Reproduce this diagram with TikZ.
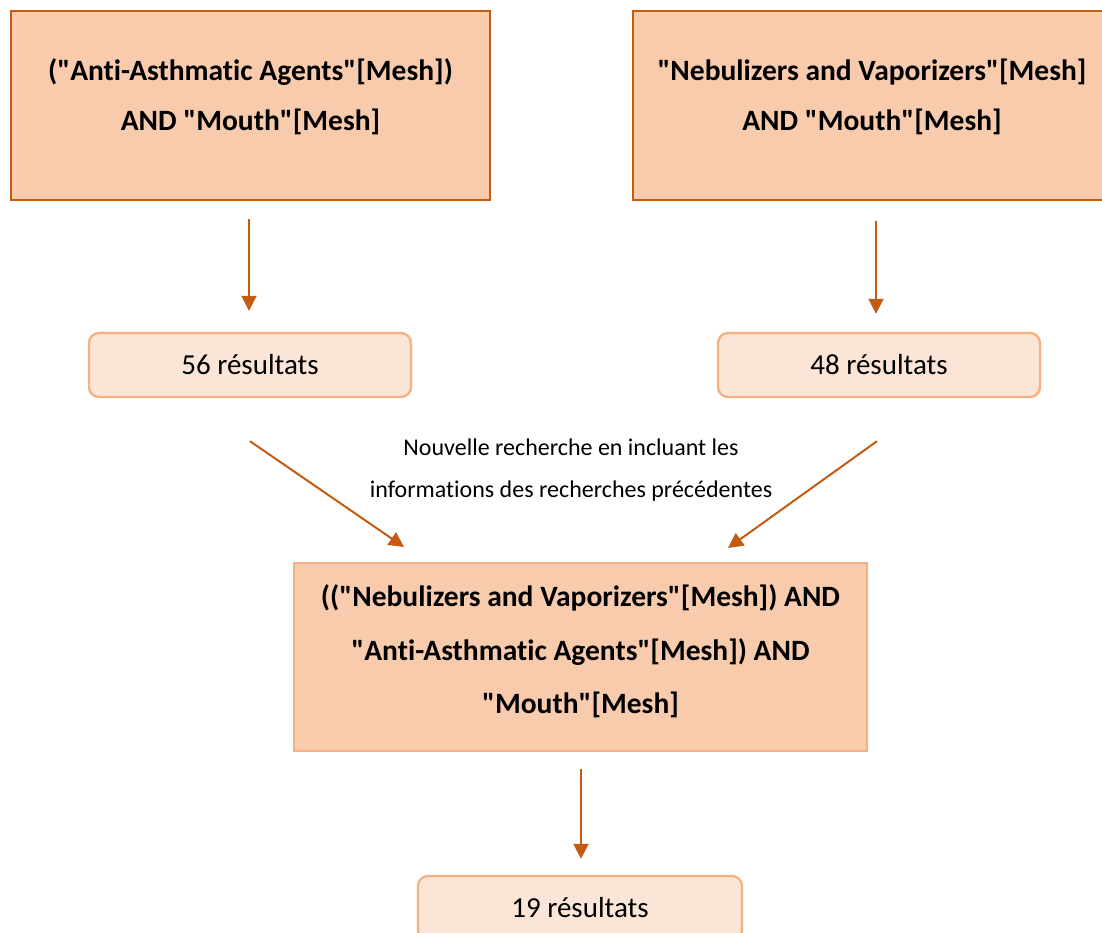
\documentclass[tikz,border=0pt]{standalone}
\usepackage{fontspec}
\setmainfont{Carlito}[Ligatures={TeXOff,NoCommon}]
\usetikzlibrary{arrows.meta,positioning}
\definecolor{darkor}{HTML}{C55A11}
\definecolor{peach}{HTML}{F8CBAD}
\definecolor{lightpeach}{HTML}{FBE5D6}
\definecolor{lightor}{HTML}{F4B183}
\tikzset{
  querybox/.style={rectangle, draw=darkor, fill=peach, line width=2.6pt, inner sep=0pt},
  softquery/.style={rectangle, draw=lightor, fill=peach, line width=2pt, inner sep=0pt},
  resultbox/.style={rectangle, rounded corners=10pt, draw=lightor, fill=lightpeach, line width=2.4pt, inner sep=0pt, minimum width=322pt, minimum height=64pt, font=\fontsize{29}{34}\selectfont},
  boldtxt/.style={align=center, inner sep=0pt, font=\bfseries\fontsize{29.5}{50}\selectfont},
  smalltxt/.style={align=center, inner sep=0pt, font=\fontsize{24}{42}\selectfont},
  flow/.style={draw=darkor, line width=2pt, -{Triangle[length=15pt,width=15pt]}}
}
\begin{document}
\begin{tikzpicture}[x=1pt,y=1pt]
\useasboundingbox (0,0) rectangle (1102,-933);
\clip (0,0) rectangle (1102,-933);
% top query boxes
\node[querybox, minimum width=479pt, minimum height=189pt] (qA) at (250.5,-105.5) {};
\node[boldtxt] (tA) at (250.5,-97) {("Anti-Asthmatic Agents"[Mesh])\\AND "Mouth"[Mesh]};
\node[querybox, minimum width=473pt, minimum height=189pt] (qB) at (869.5,-105.5) {};
\node[boldtxt] (tB) at (872,-97) {"Nebulizers and Vaporizers"[Mesh]\\AND "Mouth"[Mesh]};
% results
\node[resultbox] (r56) at (250,-365) {56 résultats};
\node[resultbox] (r48) at (879,-365) {48 résultats};
% combined query
\node[softquery, minimum width=573pt, minimum height=188pt] (qC) at (580.5,-657) {};
\node[boldtxt, font=\bfseries\fontsize{29.5}{53.5}\selectfont] (tC) at (580.5,-651.5) {(("Nebulizers and Vaporizers"[Mesh]) AND\\"Anti-Asthmatic Agents"[Mesh]) AND\\"Mouth"[Mesh]};
% note
\node[smalltxt] (note) at (571,-470) {Nouvelle recherche en incluant les\\informations des recherches précédentes};
% final result
\node[resultbox, minimum width=324pt] (r19) at (580,-908) {19 résultats};
% connector end points
\coordinate (s1) at ([yshift=-43pt]r56.south);
\coordinate (e1) at ([xshift=111pt,yshift=15pt]qC.north west);
\coordinate (s2) at ([xshift=-2pt,yshift=-43pt]r48.south);
\coordinate (e2) at ([xshift=-140pt,yshift=14pt]qC.north east);
% connectors
\draw[flow, shorten <=18pt, shorten >=21pt] ([xshift=-1.5pt]qA.south) -- ([xshift=-1pt]r56.north);
\draw[flow, shorten <=20pt, shorten >=18pt] ([xshift=6.5pt]qB.south) -- ([xshift=-3pt]r48.north);
\draw[flow] (s1) -- (e1);
\draw[flow] (s2) -- (e2);
\draw[flow, shorten <=17pt, shorten >=16pt] ([xshift=0.5pt]qC.south) -- ([xshift=1pt]r19.north);
\end{tikzpicture}
\end{document}
